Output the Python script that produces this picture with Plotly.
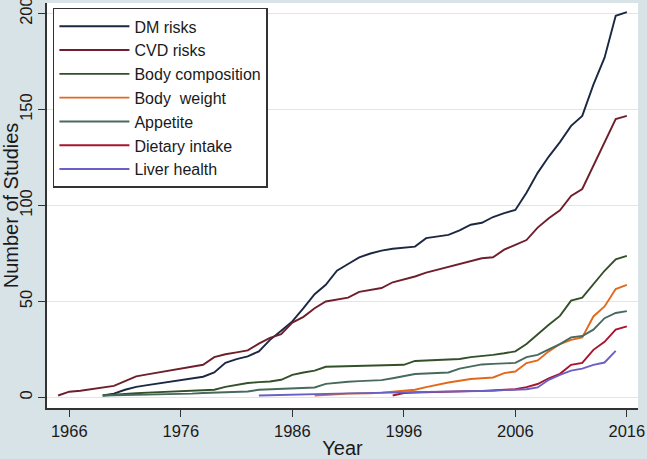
import plotly.graph_objects as go

# Cumulative number of studies per outcome, by year
dm_years = list(range(1969, 2017))
dm_risks = [1, 2, 4, 5.5, 6.4, 7.3, 8, 8.9, 9.7, 10.8, 13, 18, 20, 21.4, 24, 30, 34.7, 39.6,
            46.5, 53.8, 58.7, 66, 69.5, 73, 75, 76.5, 77.5, 78, 78.6, 83, 84, 84.7, 87, 90,
            91, 94, 96, 97.7, 106.6, 117, 125.5, 133, 141.5, 146.7, 163, 177, 198.8, 200.7]

cvd_years = list(range(1965, 2017))
cvd_risks = [1, 3, 3.5, 4.2, 5, 6, 8.5, 11, 12, 13, 14, 15, 16, 17, 21, 22.5, 23.5, 24.5, 28,
             31, 33, 39, 42, 46.5, 50, 51, 52, 55, 56, 57, 60, 61.3, 63, 65, 66.5, 68.2, 69.5,
             71.2, 72.5, 73, 77, 79.5, 82, 88.5, 93.4, 97.5, 105, 108.6, 121, 132.6, 145, 146.7]

bodycomp_years = list(range(1969, 2017))
body_composition = [1, 1.5, 2, 2.2, 2.5, 2.7, 3, 3.1, 3.4, 3.6, 4, 5.5, 6.5, 7.5, 8, 8.3, 9.2,
                    11.8, 13, 14, 16, 16.2, 16.4, 16.5, 16.7, 16.8, 16.9, 17, 19, 19.3, 19.5,
                    19.7, 20, 21, 21.5, 22.2, 23, 24, 27.8, 33, 37.9, 42.5, 50.4, 52, 59.2, 66,
                    72, 73.8]

weight_years = list(range(1988, 2017))
body_weight = [1, 1.5, 1.7, 2, 2, 2.2, 2.5, 3, 3.6, 4, 5.4, 6.7, 7.8, 8.7, 9.6, 10, 10.4, 12.7,
               13.5, 17.9, 19.3, 24, 27.8, 30, 31.3, 42.2, 47.4, 56.5, 58.7]

appetite_years = list(range(1969, 2017))
appetite = [1, 1.1, 1.2, 1.3, 1.4, 1.5, 1.6, 1.8, 2, 2.3, 2.5, 2.7, 2.9, 3.1, 4, 4.3, 4.6, 4.9,
            5, 5.2, 7.1, 7.8, 8.2, 8.5, 8.9, 9, 10, 11, 12.2, 12.5, 12.8, 13, 15, 16, 17.2,
            17.5, 17.7, 18, 21, 22.2, 25, 27.8, 31.3, 32, 35.3, 41.3, 44, 45]

diet_years = list(range(1995, 2017))
dietary_intake = [1, 2.3, 2.6, 2.8, 3, 3.1, 3.2, 3.3, 3.4, 3.6, 4, 4.3, 5.4, 7, 10, 12.3, 17,
                  18, 24.8, 29, 35.3, 37]

liver_years = list(range(1983, 2016))
liver_health = [1, 1.2, 1.4, 1.5, 1.6, 1.8, 2, 2, 2.1, 2.2, 2.3, 2.4, 2.5, 2.6, 2.7, 2.8, 2.9,
                3, 3, 3.1, 3.3, 3.5, 3.8, 4, 4.3, 5.2, 9.2, 11.8, 14, 15, 17, 18.2, 24.3]

series = [
    ("DM risks", dm_years, dm_risks, "#1c2842"),
    ("CVD risks", cvd_years, cvd_risks, "#6e1f2b"),
    ("Body composition", bodycomp_years, body_composition, "#34502a"),
    ("Body  weight", weight_years, body_weight, "#e2691c"),
    ("Appetite", appetite_years, appetite, "#476a5d"),
    ("Dietary intake", diet_years, dietary_intake, "#a8142e"),
    ("Liver health", liver_years, liver_health, "#6a5fc4"),
]

x_ticks = [1966, 1976, 1986, 1996, 2006, 2016]
y_ticks = [0, 50, 100, 150, 200]

fig = go.Figure()
for name, xs, ys, col in series:
    fig.add_trace(go.Scatter(x=xs, y=ys, mode="lines", name=name,
                             line=dict(color=col, width=1.9)))

bg = "#d8e3e8"
font = dict(family="Liberation Sans, Arial, sans-serif", size=17, color="#1a1a1a")
tick_font = dict(family="Liberation Sans, Arial, sans-serif", size=16.5, color="#1a1a1a")

fig.update_layout(
    width=647, height=459,
    paper_bgcolor=bg, plot_bgcolor="white",
    margin=dict(l=47, r=9, t=3, b=51),
    font=font,
    showlegend=True,
    legend=dict(x=0.01, y=0.988, xanchor="left", yanchor="top",
                bgcolor="white", bordercolor="#333333", borderwidth=1.5,
                font=dict(family="Liberation Sans, Arial, sans-serif", size=16, color="#1a1a1a"),
                itemwidth=70, tracegroupgap=0),
)
fig.update_xaxes(range=[1964, 2017], tickvals=x_ticks, ticks="outside", ticklen=7,
                 tickcolor="#333333", showline=True, linecolor="#333333", linewidth=1.5,
                 showgrid=False, zeroline=False, title_text="Year", title_standoff=2,
                 tickfont=tick_font, automargin=False, ticklabeloverflow="allow")
fig.update_yaxes(range=[-5.5, 205.5], tickvals=y_ticks, ticks="outside", ticklen=7,
                 tickcolor="#333333", showline=True, linecolor="#333333", linewidth=1.5,
                 showgrid=True, gridcolor="#dbe7ea", gridwidth=1.2, zeroline=False,
                 tickangle=-90, title_text="Number of Studies", title_standoff=2,
                 tickfont=tick_font, automargin=False, ticklabeloverflow="allow")

# drop the default page margin so the figure sits at the window's corner
fig.write_html("out.html", config={"displayModeBar": False},
               post_script="document.body.style.margin='0';document.body.style.background='%s';" % bg)
